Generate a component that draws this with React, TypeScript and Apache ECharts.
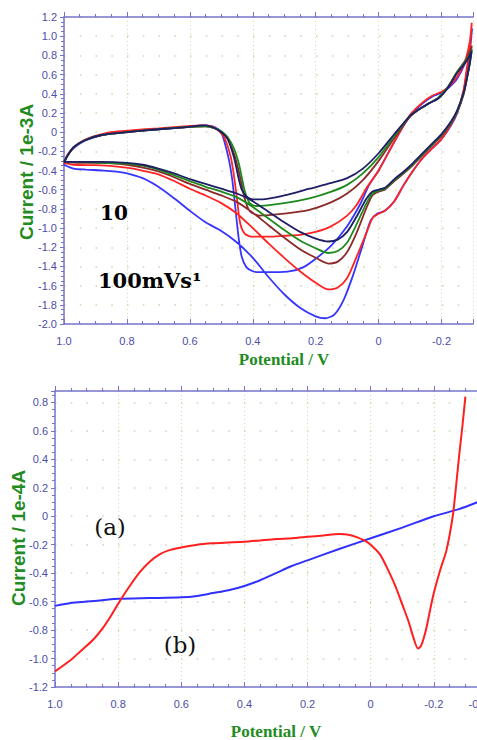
import React, { useEffect, useRef } from "react";
import * as echarts from "echarts";

type Pt = [number, number];

// ---------- top panel: cyclic voltammograms (Potential / V, Current / 1e-3A) ----------
const blueScan: Pt[] = [
  [1.0, -0.34], [0.97, -0.38], [0.93, -0.39], [0.88, -0.4], [0.84, -0.41], [0.8, -0.43], [0.75, -0.48],
  [0.7, -0.57], [0.65, -0.69], [0.6, -0.82], [0.55, -0.94], [0.5, -1.03], [0.45, -1.15], [0.4, -1.31],
  [0.35, -1.51], [0.3, -1.69], [0.25, -1.83], [0.2, -1.92], [0.17, -1.94], [0.14, -1.9], [0.11, -1.74],
  [0.08, -1.48], [0.05, -1.17], [0.025, -0.92], [0.005, -0.85], [-0.02, -0.82], [-0.05, -0.72],
  [-0.08, -0.55], [-0.11, -0.4], [-0.14, -0.27], [-0.17, -0.17], [-0.2, -0.07], [-0.23, 0.07],
  [-0.25, 0.2], [-0.27, 0.42], [-0.28, 0.62], [-0.29, 0.84], [-0.297, 1.08],
  [-0.29, 0.9], [-0.275, 0.72], [-0.25, 0.56], [-0.225, 0.47], [-0.2, 0.41], [-0.17, 0.37], [-0.14, 0.3],
  [-0.1, 0.17], [-0.05, -0.1], [0.0, -0.4], [0.03, -0.55], [0.06, -0.76], [0.1, -0.98], [0.15, -1.18],
  [0.2, -1.32], [0.24, -1.41], [0.28, -1.45], [0.33, -1.46], [0.38, -1.46], [0.4, -1.45], [0.42, -1.41],
  [0.435, -1.3], [0.445, -1.1], [0.455, -0.8], [0.465, -0.5], [0.475, -0.3], [0.49, -0.1], [0.5, -0.01],
  [0.52, 0.05], [0.56, 0.07], [0.62, 0.05], [0.7, 0.03], [0.78, 0.01], [0.85, -0.01], [0.9, -0.05],
  [0.94, -0.1], [0.97, -0.17], [0.99, -0.25], [1.0, -0.34],
];

const redScan: Pt[] = [
  [1.0, -0.32], [0.97, -0.34], [0.9, -0.345], [0.83, -0.36], [0.78, -0.38], [0.74, -0.41], [0.7, -0.44],
  [0.65, -0.51], [0.6, -0.59], [0.55, -0.66], [0.5, -0.74], [0.45, -0.85], [0.4, -1.0], [0.35, -1.16],
  [0.3, -1.31], [0.25, -1.45], [0.2, -1.57], [0.16, -1.64], [0.13, -1.62], [0.1, -1.52], [0.07, -1.3],
  [0.04, -1.06], [0.02, -0.9], [0.0, -0.85], [-0.02, -0.82], [-0.05, -0.72], [-0.08, -0.55],
  [-0.11, -0.4], [-0.14, -0.27], [-0.17, -0.17], [-0.2, -0.07], [-0.23, 0.08], [-0.25, 0.21],
  [-0.27, 0.44], [-0.28, 0.66], [-0.29, 0.88], [-0.296, 1.14],
  [-0.29, 0.95], [-0.275, 0.74], [-0.25, 0.58], [-0.225, 0.48], [-0.2, 0.42], [-0.17, 0.38], [-0.14, 0.31],
  [-0.1, 0.18], [-0.05, -0.1], [0.0, -0.4], [0.04, -0.59], [0.07, -0.76], [0.1, -0.87], [0.15, -0.98],
  [0.2, -1.04], [0.25, -1.07], [0.3, -1.08], [0.35, -1.09], [0.4, -1.09], [0.425, -1.06], [0.44, -0.95],
  [0.45, -0.7], [0.46, -0.45], [0.47, -0.26], [0.49, -0.06], [0.51, 0.02], [0.53, 0.06], [0.56, 0.07],
  [0.62, 0.06], [0.7, 0.04], [0.78, 0.02], [0.85, 0.0], [0.9, -0.04], [0.94, -0.09], [0.97, -0.16],
  [0.99, -0.24], [1.0, -0.32],
];

const brownScan: Pt[] = [
  [1.0, -0.31], [0.95, -0.32], [0.88, -0.32], [0.8, -0.34], [0.75, -0.37], [0.7, -0.41], [0.65, -0.47],
  [0.6, -0.54], [0.55, -0.6], [0.5, -0.66], [0.45, -0.73], [0.4, -0.84], [0.35, -0.97], [0.3, -1.1],
  [0.25, -1.22], [0.2, -1.31], [0.16, -1.37], [0.13, -1.35], [0.1, -1.25], [0.07, -1.05], [0.04, -0.8],
  [0.02, -0.66], [0.0, -0.62], [-0.02, -0.6], [-0.05, -0.51], [-0.08, -0.43], [-0.11, -0.34],
  [-0.14, -0.24], [-0.17, -0.14], [-0.2, -0.04], [-0.23, 0.09], [-0.25, 0.21], [-0.27, 0.39],
  [-0.28, 0.55], [-0.29, 0.74], [-0.296, 0.9],
  [-0.285, 0.8], [-0.27, 0.72], [-0.25, 0.63], [-0.22, 0.47], [-0.19, 0.36], [-0.16, 0.3], [-0.13, 0.24],
  [-0.1, 0.16], [-0.05, -0.06], [0.0, -0.3], [0.05, -0.5], [0.1, -0.64], [0.15, -0.73], [0.22, -0.81],
  [0.3, -0.85], [0.38, -0.87], [0.41, -0.82], [0.425, -0.7], [0.435, -0.55], [0.445, -0.4],
  [0.46, -0.22], [0.48, -0.07], [0.5, 0.0], [0.52, 0.04], [0.55, 0.06], [0.62, 0.05], [0.7, 0.03],
  [0.8, 0.0], [0.88, -0.03], [0.93, -0.08], [0.97, -0.16], [1.0, -0.31],
];

const greenScan: Pt[] = [
  [1.0, -0.31], [0.95, -0.31], [0.88, -0.32], [0.8, -0.33], [0.75, -0.35], [0.7, -0.39], [0.65, -0.45],
  [0.6, -0.51], [0.55, -0.57], [0.5, -0.62], [0.45, -0.68], [0.4, -0.78], [0.35, -0.9], [0.3, -1.02],
  [0.25, -1.13], [0.2, -1.21], [0.16, -1.26], [0.13, -1.24], [0.1, -1.15], [0.07, -0.96], [0.04, -0.75],
  [0.02, -0.64], [0.0, -0.61], [-0.02, -0.59], [-0.05, -0.5], [-0.08, -0.42], [-0.11, -0.33],
  [-0.14, -0.23], [-0.17, -0.13], [-0.2, -0.03], [-0.23, 0.1], [-0.25, 0.22], [-0.27, 0.4],
  [-0.28, 0.55], [-0.29, 0.72], [-0.296, 0.86],
  [-0.285, 0.78], [-0.27, 0.71], [-0.25, 0.63], [-0.22, 0.47], [-0.19, 0.36], [-0.16, 0.3], [-0.13, 0.24],
  [-0.1, 0.17], [-0.05, -0.04], [0.0, -0.26], [0.05, -0.43], [0.1, -0.55], [0.15, -0.62], [0.22, -0.69],
  [0.3, -0.74], [0.39, -0.77], [0.41, -0.74], [0.425, -0.62], [0.435, -0.47], [0.445, -0.32],
  [0.46, -0.17], [0.48, -0.05], [0.5, 0.01], [0.52, 0.04], [0.55, 0.06], [0.62, 0.05], [0.7, 0.03],
  [0.8, 0.0], [0.88, -0.03], [0.93, -0.08], [0.97, -0.16], [1.0, -0.31],
];

const navyScan: Pt[] = [
  [1.0, -0.31], [0.95, -0.31], [0.88, -0.31], [0.8, -0.32], [0.75, -0.34], [0.7, -0.38], [0.65, -0.43],
  [0.6, -0.49], [0.55, -0.54], [0.5, -0.59], [0.45, -0.64], [0.4, -0.72], [0.35, -0.83], [0.3, -0.94],
  [0.25, -1.04], [0.2, -1.11], [0.16, -1.14], [0.13, -1.12], [0.1, -1.04], [0.07, -0.88], [0.04, -0.7],
  [0.02, -0.62], [0.0, -0.6], [-0.02, -0.58], [-0.05, -0.49], [-0.08, -0.41], [-0.11, -0.32],
  [-0.14, -0.22], [-0.17, -0.12], [-0.2, -0.02], [-0.23, 0.11], [-0.25, 0.23], [-0.27, 0.41],
  [-0.28, 0.55], [-0.29, 0.72], [-0.296, 0.85],
  [-0.285, 0.77], [-0.27, 0.7], [-0.25, 0.62], [-0.22, 0.46], [-0.19, 0.35], [-0.16, 0.3], [-0.13, 0.24],
  [-0.1, 0.17], [-0.05, -0.02], [0.0, -0.22], [0.05, -0.38], [0.1, -0.48], [0.15, -0.53], [0.22, -0.59],
  [0.3, -0.66], [0.37, -0.7], [0.4, -0.7], [0.42, -0.67], [0.435, -0.6], [0.445, -0.48], [0.46, -0.26],
  [0.48, -0.07], [0.5, 0.0], [0.52, 0.04], [0.55, 0.07], [0.62, 0.05], [0.7, 0.03], [0.8, 0.0],
  [0.88, -0.03], [0.93, -0.08], [0.97, -0.16], [1.0, -0.31],
];

// ---------- bottom panel (Potential / V, Current / 1e-4A) ----------
const curveA: Pt[] = [
  [1.0, -1.09], [0.95, -1.01], [0.92, -0.95], [0.88, -0.87], [0.85, -0.79], [0.82, -0.69], [0.79, -0.58],
  [0.76, -0.48], [0.73, -0.39], [0.7, -0.32], [0.67, -0.27], [0.64, -0.24], [0.6, -0.22], [0.55, -0.2],
  [0.5, -0.19], [0.45, -0.185], [0.4, -0.18], [0.35, -0.17], [0.3, -0.16], [0.25, -0.155], [0.2, -0.145],
  [0.15, -0.135], [0.1, -0.125], [0.07, -0.13], [0.04, -0.15], [0.02, -0.17], [0.0, -0.2], [-0.03, -0.27],
  [-0.06, -0.4], [-0.08, -0.5], [-0.1, -0.62], [-0.12, -0.74], [-0.135, -0.85], [-0.15, -0.93],
  [-0.16, -0.91], [-0.175, -0.8], [-0.19, -0.64], [-0.2, -0.54], [-0.22, -0.38], [-0.24, -0.24],
  [-0.26, 0.0], [-0.27, 0.2], [-0.28, 0.42], [-0.29, 0.62], [-0.3, 0.84],
];

const curveB: Pt[] = [
  [1.0, -0.63], [0.95, -0.61], [0.9, -0.6], [0.85, -0.59], [0.8, -0.58], [0.7, -0.575], [0.6, -0.57],
  [0.55, -0.56], [0.5, -0.54], [0.45, -0.52], [0.4, -0.49], [0.35, -0.45], [0.3, -0.4], [0.25, -0.35],
  [0.2, -0.31], [0.1, -0.23], [0.0, -0.155], [-0.1, -0.08], [-0.2, 0.0], [-0.28, 0.05], [-0.34, 0.1],
];

const topSeries = [
  { data: blueScan, color: "#3535ff" },
  { data: redScan, color: "#ff2323" },
  { data: brownScan, color: "#8c2a2a" },
  { data: greenScan, color: "#1d8a1d" },
  { data: navyScan, color: "#1e1e66" },
];

const bottomSeries = [
  { data: curveB, color: "#3030ff" },
  { data: curveA, color: "#ff1f1f" },
];

const axisColor = "#7474cc";
const labelColor = "#4d4da8";
const dotColor = "#d2d8ac";
const titleGreen = "#228b22";
const tickFont = "'Liberation Sans Narrow', 'Liberation Sans', Arial, sans-serif";

function fmt(v: number): string {
  if (Math.abs(v) < 1e-9) return "0";
  return v.toFixed(1);
}

function xAxisFor(gridIndex: number, min: number, position: "top" | "bottom") {
  const isBottom = position === "bottom";
  return {
    type: "value",
    gridIndex,
    position,
    inverse: true,
    min,
    max: 1.0,
    splitNumber: 6,
    axisLine: { show: true, onZero: false, lineStyle: { color: axisColor, width: 1.5 } },
    axisTick: { show: true, inside: isBottom, length: 5, lineStyle: { color: axisColor } },
    minorTick: { show: true, splitNumber: 4, length: 3, lineStyle: { color: axisColor } },
    axisLabel: {
      show: isBottom,
      formatter: fmt,
      color: labelColor,
      fontSize: 11,
      fontFamily: tickFont,
      margin: 11,
      showMinLabel: gridIndex === 1,
      showMaxLabel: true,
    },
    splitLine: {
      show: isBottom,
      lineStyle: { color: dotColor, type: [1, 3], width: 1 },
    },
  };
}

function yAxisFor(gridIndex: number, min: number, max: number) {
  return {
    type: "value",
    gridIndex,
    min,
    max,
    interval: 0.2,
    axisLine: { show: true, onZero: false, lineStyle: { color: axisColor, width: 1.5 } },
    axisTick: { show: true, length: 4, lineStyle: { color: axisColor } },
    minorTick: { show: true, splitNumber: 4, length: 3, lineStyle: { color: axisColor } },
    axisLabel: {
      formatter: fmt,
      color: labelColor,
      fontSize: 11,
      fontFamily: tickFont,
      margin: 7,
      showMaxLabel: gridIndex === 0,
    },
    splitLine: {
      show: true,
      lineStyle: { color: dotColor, type: [1.6, 14.15], width: 1.6 },
    },
  };
}

export default function App() {
  const ref = useRef<HTMLDivElement>(null);

  useEffect(() => {
    if (!ref.current) return;
    const chart = echarts.init(ref.current, null, { renderer: "svg" });
    const series: any[] = [];
    topSeries.forEach((s) =>
      series.push({
        type: "line",
        xAxisIndex: 0,
        yAxisIndex: 0,
        data: s.data,
        showSymbol: false,
        smooth: 0.25,
        lineStyle: { color: s.color, width: 1.8 },
        itemStyle: { color: s.color },
        z: 3,
      })
    );
    bottomSeries.forEach((s) =>
      series.push({
        type: "line",
        xAxisIndex: 2,
        yAxisIndex: 1,
        data: s.data,
        showSymbol: false,
        smooth: 0.25,
        lineStyle: { color: s.color, width: 2 },
        itemStyle: { color: s.color },
        z: 3,
      })
    );

    const option: any = {
      animation: false,
      backgroundColor: "#ffffff",
      grid: [
        { left: 64, top: 17, width: 409, height: 307 },
        { left: 55, top: 391, width: 423, height: 296 },
      ],
      xAxis: [
        xAxisFor(0, -0.3, "bottom"),
        xAxisFor(0, -0.3, "top"),
        xAxisFor(1, -0.34, "bottom"),
        xAxisFor(1, -0.34, "top"),
      ],
      yAxis: [yAxisFor(0, -2.0, 1.2), yAxisFor(1, -1.2, 0.88)],
      series,
      graphic: [
        {
          type: "text",
          x: 26,
          y: 172,
          rotation: Math.PI / 2,
          style: {
            text: "Current / 1e-3A",
            font: "bold 19px 'Liberation Sans', Arial, sans-serif",
            fill: titleGreen,
            align: "center",
            verticalAlign: "middle",
          },
        },
        {
          type: "text",
          x: 18,
          y: 538,
          rotation: Math.PI / 2,
          style: {
            text: "Current / 1e-4A",
            font: "bold 19px 'Liberation Sans', Arial, sans-serif",
            fill: titleGreen,
            align: "center",
            verticalAlign: "middle",
          },
        },
        {
          type: "text",
          x: 284,
          y: 359,
          style: {
            text: "Potential / V",
            font: "bold 17px 'Liberation Serif', 'Times New Roman', serif",
            fill: titleGreen,
            align: "center",
            verticalAlign: "middle",
          },
        },
        {
          type: "text",
          x: 276,
          y: 731,
          style: {
            text: "Potential / V",
            font: "bold 17px 'Liberation Serif', 'Times New Roman', serif",
            fill: titleGreen,
            align: "center",
            verticalAlign: "middle",
          },
        },
        {
          type: "text",
          x: 100,
          y: 213,
          style: {
            text: "10",
            font: "bold 20px 'DejaVu Serif', serif",
            fill: "#000",
            align: "left",
            verticalAlign: "middle",
          },
        },
        {
          type: "text",
          x: 98,
          y: 280,
          style: {
            text: "100mVs¹",
            font: "bold 21px 'DejaVu Serif', serif",
            fill: "#000",
            align: "left",
            verticalAlign: "middle",
          },
        },
        {
          type: "text",
          x: 110,
          y: 527,
          style: {
            text: "(a)",
            font: "23px 'DejaVu Serif', serif",
            fill: "#111",
            align: "center",
            verticalAlign: "middle",
          },
        },
        {
          type: "text",
          x: 180,
          y: 645,
          style: {
            text: "(b)",
            font: "23px 'DejaVu Serif', serif",
            fill: "#111",
            align: "center",
            verticalAlign: "middle",
          },
        },
      ],
    };
    chart.setOption(option);
    return () => chart.dispose();
  }, []);

  return (
    <div
      style={{
        position: "absolute",
        left: 0,
        top: 0,
        width: 477,
        height: 740,
        overflow: "hidden",
        background: "#ffffff",
      }}
    >
      <div ref={ref} style={{ width: 500, height: 740 }} />
    </div>
  );
}
